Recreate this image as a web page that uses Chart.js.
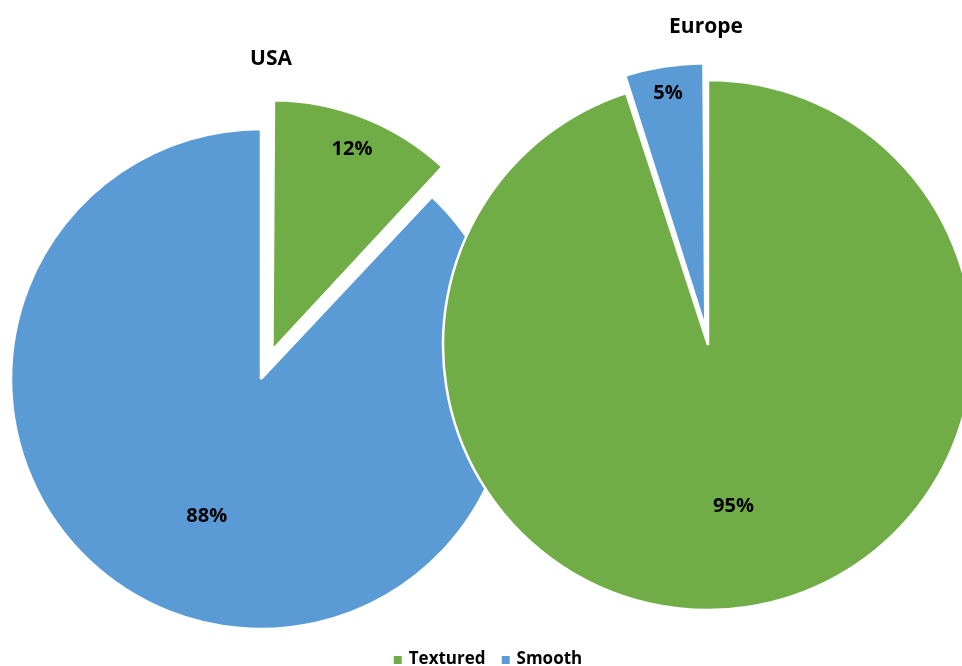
<!DOCTYPE html>
<html>
<head>
<meta charset="utf-8">
<script src="https://cdn.jsdelivr.net/npm/chart.js@4.4.0/dist/chart.umd.min.js"></script>
<style>
  body { margin: 0; background: #fff; font-family: "Open Sans", sans-serif; }
  #wrap { position: relative; width: 962px; height: 666px; overflow: hidden; }
  #wrap canvas { position: absolute; left: 0; top: 0; }
  .title { position: absolute; font-weight: bold; font-size: 21px; line-height: 21px; color: #000;
           transform: translate(-50%, -50%); white-space: nowrap; }
  #legend { position: absolute; left: 488px; top: 649px; transform: translateX(-50%);
            display: flex; align-items: center; gap: 16px; font-weight: bold; font-size: 17px;
            line-height: 17px; color: #000; white-space: nowrap; }
  #legend span.box { display: inline-block; width: 8px; height: 8px; margin-right: 7px; }
</style>
</head>
<body>
<div id="wrap">
  <canvas id="usa" width="962" height="666"></canvas>
  <canvas id="europe" width="962" height="666"></canvas>
  <div class="title" style="left:271px; top:57px;">USA</div>
  <div class="title" style="left:706px; top:25px;">Europe</div>
  <div id="legend"></div>
</div>
<script>
const categories = ["Textured", "Smooth"];
const usaShare = [12, 88];
const europeShare = [95, 5];
const sliceColors = ["#70AD47", "#5B9BD5"];

// Chart.js grows an exploded slice's radius a little; keep it equal to the rest
const explodeFix = {
	id: "explodeFix",
	afterDatasetsUpdate(chart) {
		chart.getDatasetMeta(0).data.forEach((arc) => {
			const shift = (arc.options.offset || 0) / 4;
			const fix = 1 - Math.sin(Math.min(Math.PI, arc.circumference));
			arc.outerRadius -= shift * fix;
		});
	},
};

// percentage text on each slice
const sliceLabels = {
	id: "sliceLabels",
	afterDatasetsDraw(chart) {
		const ctx = chart.ctx;
		const ds = chart.data.datasets[0];
		ctx.save();
		ctx.font = "bold 20px 'Open Sans'";
		ctx.fillStyle = "#000";
		ctx.textAlign = "center";
		ctx.textBaseline = "middle";
		chart.getDatasetMeta(0).data.forEach((arc, i) => {
			const mid = (arc.startAngle + arc.endAngle) / 2;
			const shift = (arc.options.offset || 0) / 4;
			const r = shift + arc.outerRadius * ds.labelRadius[i];
			ctx.fillText(ds.data[i] + "%", arc.x + Math.cos(mid) * r, arc.y + Math.sin(mid) * r);
		});
		ctx.restore();
	},
};

function makePie(id, share, explode, labelRadius, radius, padding) {
	return new Chart(document.getElementById(id).getContext("2d"), {
		type: "pie",
		data: {
			labels: categories,
			datasets: [
				{
					data: share,
					backgroundColor: sliceColors,
					borderColor: "#fff",
					borderWidth: 2.5,
					offset: explode,
					radius: radius,
					labelRadius: labelRadius,
					clip: false,
				},
			],
		},
		options: {
			responsive: false,
			animation: false,
			events: [],
			layout: { padding: padding },
			plugins: {
				legend: { display: false },
				tooltip: { enabled: false },
			},
		},
		plugins: [explodeFix, sliceLabels],
	});
}

makePie("usa", usaShare, [124, 0], [0.9, 0.59], 250, { left: 0, right: 440, top: 100, bottom: 8 });
makePie("europe", europeShare, [0, 68], [0.615, 0.94], 265, { left: 454, right: 0, top: 30, bottom: 6 });

const legend = document.getElementById("legend");
categories.forEach((name, i) => {
	const item = document.createElement("div");
	item.innerHTML = '<span class="box" style="background:' + sliceColors[i] + '"></span>' + name;
	legend.appendChild(item);
});
</script>
</body>
</html>
